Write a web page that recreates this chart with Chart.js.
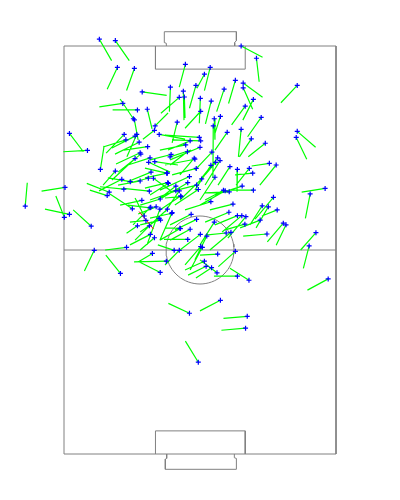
<!DOCTYPE html>
<html>
<head>
<meta charset="utf-8">
<script src="https://cdn.jsdelivr.net/npm/chart.js@4.4.1/dist/chart.umd.min.js"></script>
<style>
  html, body { margin: 0; padding: 0; background: #ffffff; }
  #wrap { width: 400px; height: 500px; }
</style>
</head>
<body>
<div id="wrap"><canvas id="c" width="400" height="500"></canvas></div>
<script>
// Pitch: 80 wide (x) x 120 long (y, 0 at top). Pass start (marker) and end points.
const startX = [
10.4,15.1,15.7,20.7,35.7,23.0,31.3,33.9,35.1,38.8,
52.1,56.6,43.0,41.3,50.4,52.7,52.7,68.6,47.1,17.3,
20.4,21.6,24.5,35.4,40.1,55.7,43.3,53.3,40.2,58.0,
46.0,44.2,48.0,52.1,55.1,59.2,68.6,68.3,33.3,26.8,
26.6,28.0,17.7,20.9,21.4,18.2,1.6,6.9,10.7,22.1,
24.6,22.4,22.6,31.5,31.2,20.9,25.3,24.9,26.7,15.1,
25.6,30.4,17.0,24.8,26.3,37.1,39.8,40.2,35.8,40.0,
36.3,43.9,43.5,38.3,38.5,45.2,45.9,44.6,48.8,51.0,
54.5,55.5,60.4,62.4,43.2,38.9,36.9,40.5,44.4,30.2,
36.4,30.5,32.9,39.0,39.5,46.9,47.4,48.6,52.4,55.7,
34.3,43.2,28.3,49.7,48.5,61.6,58.3,60.1,62.7,51.0,
52.3,53.5,57.7,64.5,65.3,53.2,31.7,28.4,37.4,39.0,
34.2,37.1,72.4,76.8,74.1,72.1,77.7,0.3,-11.4,0.1,
1.6,8.0,13.3,12.7,17.6,19.5,22.4,25.1,20.1,22.9,
25.3,23.6,21.6,25.1,25.4,26.6,24.1,28.0,25.5,27.1,
28.2,30.4,31.8,30.7,32.9,33.9,34.4,34.1,8.9,18.4,
16.6,26.0,30.1,28.3,32.4,33.9,40.2,40.7,36.4,40.1,
42.0,44.2,47.7,49.1,45.2,41.3,41.8,43.4,45.0,50.4,
51.0,54.4,59.7,36.9,46.0,53.9,53.4,39.5,20.7
];
const startY = [
-2.0,-1.6,6.3,6.6,5.4,13.5,12.1,15.1,13.3,11.6,
0.0,3.6,6.3,8.3,10.1,10.9,12.3,11.6,12.7,16.9,
21.4,18.8,18.6,15.0,15.4,15.7,16.2,17.7,19.2,21.0,
20.7,21.4,25.4,24.5,27.3,28.6,25.1,26.9,22.4,23.5,
24.8,26.0,26.0,26.5,26.0,27.6,25.7,30.7,36.3,28.3,
29.6,31.4,31.8,31.9,32.6,33.1,32.9,34.2,34.0,36.8,
37.1,37.4,39.2,38.9,38.9,27.9,26.9,27.9,29.1,29.8,
31.1,23.5,31.2,33.0,33.3,32.9,33.7,34.2,35.5,36.3,
36.0,37.4,34.5,35.0,35.1,36.0,38.4,39.1,38.6,37.4,
40.2,40.2,42.6,40.9,42.2,42.4,42.6,42.9,41.2,42.4,
44.1,45.8,45.0,46.5,48.9,44.5,47.0,47.3,48.2,49.9,
49.9,50.2,51.2,52.1,52.6,52.4,49.2,51.2,49.5,51.0,
53.7,53.9,43.5,41.9,54.9,58.8,68.5,41.6,47.1,50.4,
49.5,53.0,43.0,44.0,42.1,39.9,39.7,42.7,47.9,45.4,
47.6,50.0,52.9,52.9,55.4,56.4,51.3,50.7,47.4,47.3,
48.0,48.0,49.0,40.4,41.2,42.6,44.3,53.6,60.1,59.2,
66.9,61.0,63.3,66.6,60.1,60.1,59.0,59.2,56.9,55.4,
55.9,51.8,55.0,54.8,61.2,63.3,64.8,65.2,66.7,60.4,
67.7,68.9,55.3,78.6,74.8,79.5,83.0,93.0,21.7
];
const endX = [
14.0,19.2,12.7,18.4,33.9,30.2,31.0,28.5,35.3,36.9,
58.4,57.4,41.3,39.1,48.4,58.4,55.5,63.8,44.9,10.4,
16.5,14.3,25.9,35.6,39.8,52.6,41.6,49.3,35.6,54.0,
44.4,44.4,44.4,51.3,51.6,54.2,74.0,71.4,31.8,30.6,
23.2,35.6,12.4,14.1,18.5,11.5,5.7,-0.2,11.8,15.0,
17.6,15.3,15.9,25.3,37.4,14.1,18.8,31.2,33.5,11.5,
18.5,23.8,10.3,17.9,31.2,30.6,29.7,31.8,28.2,31.2,
31.2,43.8,38.5,34.1,29.7,40.0,41.5,41.5,45.3,50.9,
50.6,50.3,55.2,57.6,38.5,31.8,28.2,34.1,40.0,23.8,
28.8,23.8,25.3,31.2,32.6,41.5,40.0,41.5,44.4,48.8,
28.2,35.6,22.4,42.9,41.5,56.2,54.7,56.5,58.2,44.4,
46.5,48.2,51.8,59.8,62.4,47.4,25.3,22.4,31.2,32.6,
28.2,31.2,71.0,69.9,69.6,70.4,71.6,-6.6,-10.8,-2.4,
-5.6,2.7,6.7,7.6,10.6,12.9,15.9,17.4,13.5,16.5,
18.8,20.9,18.4,20.9,19.4,22.4,19.4,22.4,20.3,21.8,
24.4,25.3,28.2,25.3,27.6,29.7,29.7,29.7,6.0,12.1,
12.3,21.8,20.6,21.9,27.6,29.7,35.6,37.1,29.4,34.1,
38.5,40.0,41.5,42.9,40.0,35.6,36.5,38.8,40.0,45.4,
44.1,48.8,52.7,30.7,40.0,46.9,46.3,35.7,21.8
];
const endY = [
4.3,4.3,12.7,13.1,12.1,14.5,19.3,19.8,21.8,18.3,
3.3,10.5,13.1,12.4,16.9,15.1,18.6,16.7,19.3,17.9,
15.6,18.8,24.4,21.2,22.7,21.8,22.9,23.2,24.2,26.7,
25.7,27.6,30.6,32.6,32.6,32.6,29.8,33.3,28.5,19.7,
27.4,27.4,31.5,30.0,32.6,29.7,31.1,31.1,29.4,31.8,
30.6,34.7,37.1,33.5,30.6,39.4,35.0,37.1,35.0,40.9,
40.0,38.8,42.6,40.6,42.4,30.6,26.2,27.6,30.6,33.5,
35.0,38.8,36.5,37.9,35.0,39.4,40.9,37.9,40.9,42.9,
40.9,37.9,35.3,40.9,42.4,37.9,42.4,45.3,45.3,35.9,
44.7,41.8,45.3,42.9,46.8,45.3,46.8,43.2,43.8,42.4,
48.2,48.2,46.8,48.2,51.8,50.9,52.6,53.5,50.0,52.6,
54.7,56.5,53.5,57.6,58.6,54.1,50.6,52.6,52.6,54.1,
57.1,57.1,50.7,43.0,60.0,65.4,71.8,42.7,40.2,44.1,
48.0,48.2,40.4,42.4,41.4,38.8,40.9,41.9,43.5,46.8,
46.8,44.7,55.1,57.1,58.5,60.0,51.8,54.7,52.6,49.4,
58.5,52.6,57.1,43.8,45.3,48.8,44.7,53.5,66.2,60.0,
61.5,63.5,63.5,63.4,58.5,64.4,64.4,65.9,56.9,60.0,
62.9,58.5,55.6,60.0,61.5,65.9,67.4,68.2,62.9,64.9,
67.7,65.4,55.9,75.7,77.9,80.1,83.6,86.8,27.6
];
// One highlighted (red) pass without a marker
const redX = [22.1, 26.3];
const redY = [48.7, 53.8];

// Pitch markings (pitch units)
const pitchW = 80, pitchL = 120;
const boxX = [26.9, 53.3], boxDepth = 6.8;
const circleR = 10;
// visible frame around the pitch (pitch units)
const viewX = [-12.5, 92.5], viewY = [-5, 125];

// ---------- build datasets ----------
const passLine = [];
const markers = [];
for (let i = 0; i < startX.length; i++) {
  passLine.push({x: startX[i], y: startY[i]});
  passLine.push({x: endX[i], y: endY[i]});
  passLine.push({x: endX[i], y: null});
  markers.push({x: startX[i], y: startY[i]});
}

function poly(arr, pts) { pts.forEach(p => arr.push({x: p[0], y: p[1]})); arr.push({x: pts[pts.length-1][0], y: null}); }
const pitch = [];
poly(pitch, [[0,0],[pitchW,0],[pitchW,pitchL],[0,pitchL],[0,0]]);
poly(pitch, [[0,pitchL/2],[pitchW,pitchL/2]]);
poly(pitch, [[boxX[0],0],[boxX[0],boxDepth],[boxX[1],boxDepth],[boxX[1],0]]);
poly(pitch, [[boxX[0],pitchL],[boxX[0],pitchL-boxDepth],[boxX[1],pitchL-boxDepth],[boxX[1],pitchL]]);
poly(pitch, [[30.1,0],[30.1,-0.8],[29.5,-1.0],[29.5,-4.2],[50.7,-4.2],[50.7,-1.6],[50.2,-1.0],[50.2,0]]);
poly(pitch, [[30.2,pitchL],[30.2,121.3],[29.8,121.5],[29.8,124.5],[50.7,124.5],[50.7,121.3],[50.1,121.1],[50.1,pitchL]]);
const circ = [];
for (let a = 0; a <= 360; a += 5) {
  const r = a * Math.PI / 180;
  circ.push([pitchW/2 + circleR*Math.cos(r), pitchL/2 + circleR*Math.sin(r)]);
}
poly(pitch, circ);

const red = redX.map((x, i) => ({x: x, y: redY[i]}));

new Chart(document.getElementById('c'), {
  type: 'scatter',
  data: {
    datasets: [
      { data: markers, showLine: false, pointStyle: 'cross', pointRadius: 2.5,
        pointBorderColor: '#0000ff', pointBackgroundColor: '#0000ff', pointBorderWidth: 1.2,
        clip: false, order: 0 },
      { data: red, showLine: true, borderColor: '#ff0000', borderWidth: 1, pointRadius: 0,
        clip: false, order: 1 },
      { data: passLine, showLine: true, spanGaps: false, borderColor: '#00ff00', borderWidth: 1.2,
        pointRadius: 0, tension: 0, clip: false, order: 2 },
      { data: pitch, showLine: true, spanGaps: false, borderColor: '#808080', borderWidth: 1,
        pointRadius: 0, tension: 0, clip: false, order: 3 }
    ]
  },
  options: {
    responsive: false,
    animation: false,
    events: [],
    layout: { padding: {left: 21.5, right: 21.5, top: 29, bottom: 29}, autoPadding: false },
    plugins: { legend: { display: false }, tooltip: { enabled: false }, title: { display: false } },
    scales: {
      x: { type: 'linear', min: viewX[0], max: viewX[1], display: false },
      y: { type: 'linear', min: viewY[0], max: viewY[1], reverse: true, display: false }
    }
  }
});
</script>
</body>
</html>
